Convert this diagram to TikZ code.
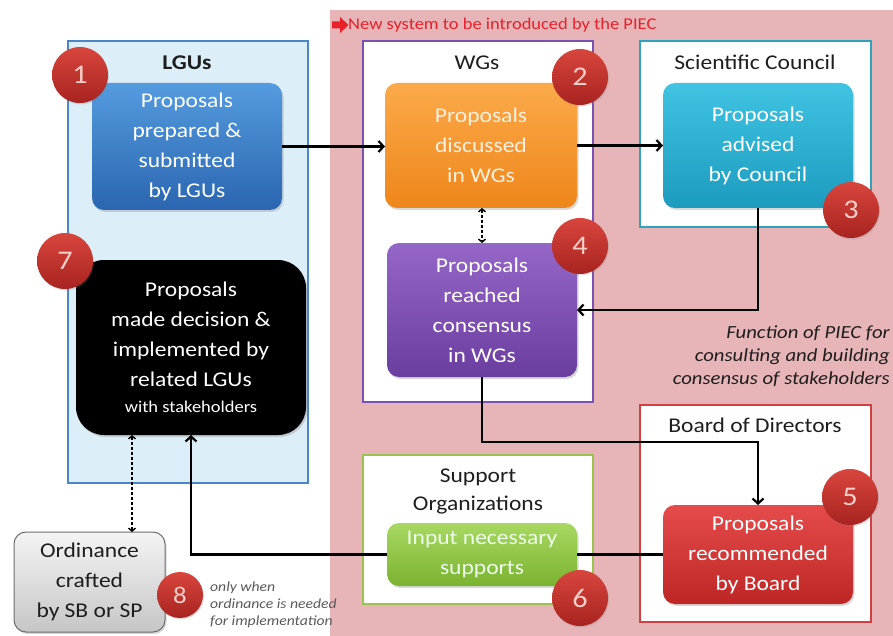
\documentclass[tikz,border=0pt]{standalone}
\usepackage{fontspec}
\setmainfont{Carlito}[FakeStretch=1.12]
\usetikzlibrary{arrows.meta,shadows}

\definecolor{piecpink}{HTML}{E7B5B7}
\definecolor{hdrred}{HTML}{E8202A}
\definecolor{lgufill}{HTML}{DCEEF7}
\definecolor{lguline}{HTML}{4A86C8}
\definecolor{wgline}{HTML}{7A50B0}
\definecolor{sciline}{HTML}{2FA3BD}
\definecolor{boardline}{HTML}{D04040}
\definecolor{supline}{HTML}{9BC24E}
\definecolor{bluetop}{HTML}{559BDF}
\definecolor{bluebot}{HTML}{2A66B0}
\definecolor{orgtop}{HTML}{FBAA4A}
\definecolor{orgbot}{HTML}{EE861A}
\definecolor{tealtop}{HTML}{40C4E2}
\definecolor{tealbot}{HTML}{1C9BBE}
\definecolor{purtop}{HTML}{9466C8}
\definecolor{purbot}{HTML}{6A3E9E}
\definecolor{redtop}{HTML}{E54B4B}
\definecolor{redbot}{HTML}{BE2626}
\definecolor{grntop}{HTML}{A8D862}
\definecolor{grnbot}{HTML}{7BB330}
\definecolor{ordtop}{HTML}{F4F4F4}
\definecolor{ordbot}{HTML}{C6C6C6}
\definecolor{ordline}{HTML}{6E6E6E}
\definecolor{badgetop}{HTML}{D8463D}
\definecolor{badgebot}{HTML}{A82320}
\definecolor{badgetxt}{HTML}{F6CFC8}
\definecolor{titletxt}{HTML}{1E1E1E}
\definecolor{notetxt}{HTML}{5A5A5A}

\newcommand\cardfont{\fontsize{21}{30}\selectfont}
\newcommand\titlefont{\fontsize{21}{28}\selectfont}

\begin{document}
\begin{tikzpicture}[x=1pt,y=-1pt,
  panel/.style={draw, line width=1.3pt, fill=white, inner sep=0pt, outer sep=0pt},
  title/.style={text=titletxt, font=\titlefont, align=center, inner sep=0pt},
  card/.style={rounded corners=12pt, inner sep=0pt, outer sep=0pt, align=center,
    text=white, font=\cardfont,
    drop shadow={opacity=0.3, shadow xshift=1.5pt, shadow yshift=-2pt}},
  badge/.style={circle, minimum size=56pt, inner sep=0pt, text=badgetxt,
    font=\fontsize{27}{27}\selectfont, top color=badgetop, bottom color=badgebot,
    drop shadow={opacity=0.25, shadow xshift=1pt, shadow yshift=-1.5pt}},
  flow/.style={line width=2.2pt, -{Straight Barb[length=5pt,width=11pt]}},
  link/.style={line width=2.2pt},
  dashpair/.style={dashed, dash pattern=on 3pt off 2pt, line width=1.4pt,
    {Straight Barb[length=3pt,width=7pt]}-{Straight Barb[length=3pt,width=7pt]}},
  note/.style={font=\itshape\fontsize{18.5}{23}\selectfont, text=titletxt, align=right, inner sep=0pt}
]
\useasboundingbox (0,0) rectangle (893,636);
\fill[white] (0,0) rectangle (893,636);

% area of the new PIEC system
\fill[piecpink] (330,10) rectangle (893,636);
\fill[hdrred] (332,21.5) -- (340,21.5) -- (340,17) -- (348.5,25) -- (340,33) -- (340,28.5) -- (332,28.5) -- cycle;
\node[anchor=west, inner sep=0pt, text=hdrred, font=\fontsize{16.5}{18}\selectfont] (hdr) at (348,25)
  {New system to be introduced by the PIEC};

% organisational frames
\node[panel, draw=lguline, fill=lgufill, minimum width=240pt, minimum height=442pt] (lgus) at (188,262) {};
\node[panel, draw=wgline, minimum width=230pt, minimum height=361pt] (wgs) at (478,221.5) {};
\node[panel, draw=sciline, minimum width=231pt, minimum height=186pt] (sci) at (755.5,134) {};
\node[panel, draw=boardline, minimum width=231pt, minimum height=217pt] (board) at (755.5,513.5) {};
\node[panel, draw=supline, minimum width=230pt, minimum height=149pt] (sup) at (478,529.5) {};

\node[title, font=\bfseries\titlefont] (lgutitle) at (187,63) {LGUs};
\node[title] (wgtitle) at (477,63) {WGs};
\node[title] (scititle) at (755,62) {Scientific Council};
\node[title] (boardtitle) at (755,425) {Board of Directors};
\node[title] (suptitle) at (478,491) {Support\\Organizations};

\node[note, anchor=east] (func) at (890,356)
  {Function of PIEC for\\consulting and building\\consensus of stakeholders};

% process steps
\node[card, top color=bluetop, bottom color=bluebot, minimum width=190pt, minimum height=127pt]
  (prep) at (187,146.5) {Proposals\\prepared \&\\submitted\\by LGUs};
\node[card, top color=orgtop, bottom color=orgbot, text=orange!12!white, minimum width=192pt, minimum height=125pt]
  (disc) at (481,145.5) {Proposals\\discussed\\in WGs};
\node[card, top color=tealtop, bottom color=tealbot, minimum width=190pt, minimum height=125pt]
  (adv) at (758,145.5) {Proposals\\advised\\by Council};
\node[card, top color=purtop, bottom color=purbot, minimum width=190pt, minimum height=134pt]
  (cons) at (482,310) {Proposals\\reached\\consensus\\in WGs};
\node[card, fill=black, rounded corners=28pt, minimum width=230pt, minimum height=175pt]
  (impl) at (191,347.5) {Proposals\\made decision \&\\implemented by\\related LGUs\\[-4pt]{\fontsize{16.5}{20}\selectfont with stakeholders}};
\node[card, top color=redtop, bottom color=redbot, minimum width=190pt, minimum height=99pt]
  (rec) at (758,554.5) {Proposals\\recommended\\by Board};
\node[card, top color=grntop, bottom color=grnbot, text=green!8!white, minimum width=190pt, minimum height=63pt]
  (supp) at (482,554.5) {Input necessary\\supports};
\node[card, top color=ordtop, bottom color=ordbot, draw=ordline, line width=1pt, text=titletxt,
  minimum width=151pt, minimum height=100pt] (ord) at (89.5,582) {Ordinance\\crafted\\by SB or SP};

% connectors
\coordinate (turn) at (482,442);
\coordinate (ordx) at (132,0);
\draw[flow] (prep.east) -- (prep.east -| disc.west);
\draw[flow] (disc.east) -- (disc.east -| adv.west);
\draw[flow] (adv.south) |- (cons.east);
\draw[flow] (cons.south) -- (cons.south |- turn) -| (rec.north);
\draw[link] (rec.west) -- (supp.east);
\draw[flow] (supp.west) -| (impl.south);
\draw[dashpair] (disc.south -| cons.south) -- (cons.north);
\draw[dashpair] (impl.south -| ordx) -- (ord.north -| ordx);

% step numbers
\node[badge] (b1) at (80,75) {1};
\node[badge] (b2) at (580,77) {2};
\node[badge] (b3) at (851,210) {3};
\node[badge] (b4) at (580,246) {4};
\node[badge] (b5) at (850,497) {5};
\node[badge] (b6) at (580,598) {6};
\node[badge] (b7) at (65,261) {7};
\node[badge, minimum size=46pt, font=\fontsize{24}{24}\selectfont] (b8) at (180,595) {8};

\node[anchor=west, align=left, inner sep=0pt, text=notetxt, font=\itshape\fontsize{14}{17}\selectfont]
  (cond) at (210,605) {only when\\ordinance is needed\\for implementation};
\end{tikzpicture}
\end{document}
